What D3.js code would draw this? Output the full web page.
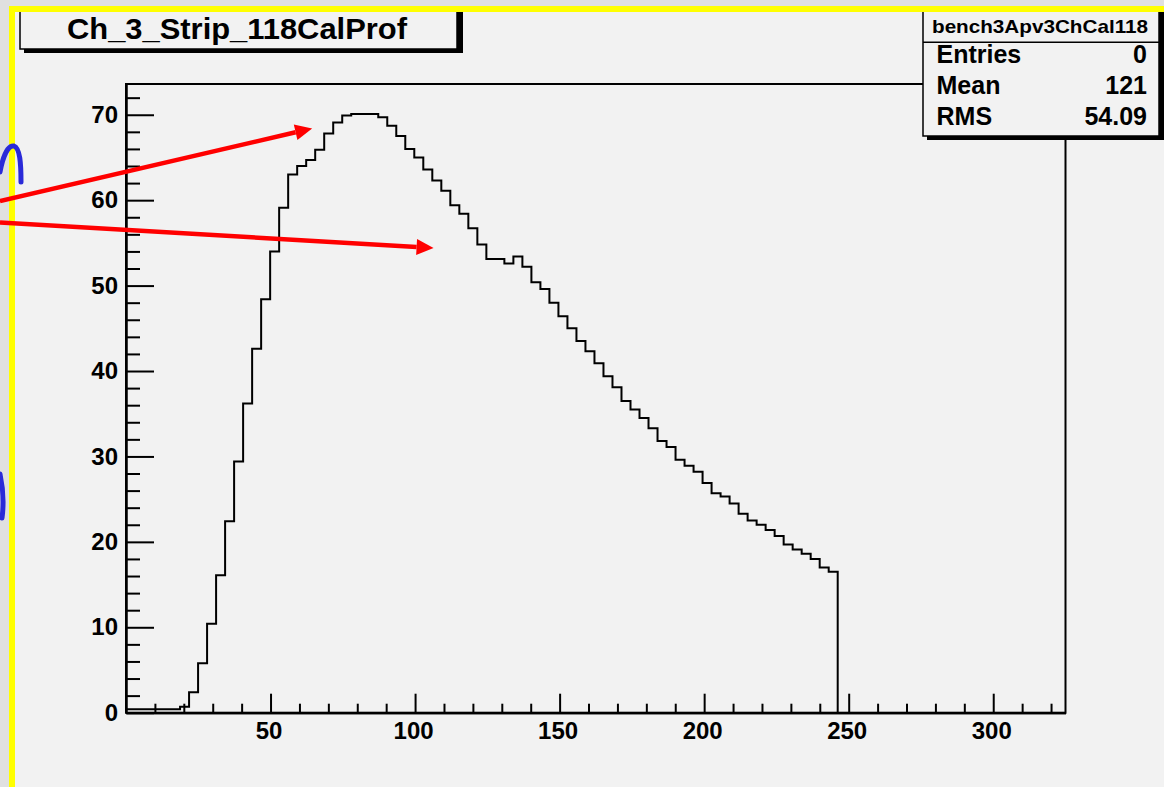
<!DOCTYPE html>
<html>
<head>
<meta charset="utf-8">
<script src="https://cdn.jsdelivr.net/npm/d3@7"></script>
<style>
  body { margin: 0; background: #e2e2e2; }
  svg { display: block; }
  text { font-family: "Liberation Sans", Arial, Helvetica, sans-serif; font-weight: bold; fill: #000; }
</style>
</head>
<body>
<div class="chart-container"></div>
<script>
// histogram / pave contents
var histTitle = 'Ch_3_Strip_118CalProf';
var statsName = 'bench3Apv3ChCal118';
var statLabels = ['Entries', 'Mean', 'RMS'];
var statValues = ['0', '121', '54.09'];

// TH1 with 79 bins between xLow and xHigh, contents
var xLow = 0;
var xHigh = 246.2;
var binContents = [
  0.4, 0.4, 0.4, 0.4, 0.4, 0.4, 0.7, 2.4, 5.8, 10.4,
  16.1, 22.4, 29.4, 36.2, 42.6, 48.4, 54.0, 59.1, 63.0, 64.0,
  64.7, 65.9, 67.8, 69.1, 69.9, 70.1, 70.1, 70.1, 69.7, 68.7,
  67.5, 66.0, 65.0, 63.6, 62.3, 61.1, 59.4, 58.4, 56.7, 54.8,
  53.1, 53.1, 52.6, 53.4, 52.2, 50.4, 49.6, 48.0, 46.4, 45.0,
  43.5, 42.3, 40.9, 39.4, 38.1, 36.5, 35.5, 34.5, 33.3, 31.8,
  31.1, 29.6, 28.9, 28.2, 26.9, 25.7, 25.3, 24.5, 23.3, 22.5,
  22.0, 21.4, 20.7, 19.7, 19.1, 18.6, 18.0, 17.0, 16.5
];

// axis ranges and ticks
var xDomain = [0, 325];
var yDomain = [0, 73.6];
var xMajorTicks = [50, 100, 150, 200, 250, 300];
var xMinorTicks = [10, 20, 30, 40, 60, 70, 80, 90, 110, 120, 130, 140, 160, 170, 180, 190,
  210, 220, 230, 240, 260, 270, 280, 290, 310, 320];
var yMajorTicks = [0, 10, 20, 30, 40, 50, 60, 70];
var yMinorTicks = [2, 4, 6, 8, 12, 14, 16, 18, 22, 24, 26, 28, 32, 34, 36, 38, 42, 44, 46, 48,
  52, 54, 56, 58, 62, 64, 66, 68, 72];

// the red arrows drawn over the plot (data coordinates: tail -> head)
var arrowTails = [[-43.6, 59.9], [-43.6, 57.4]];
var arrowHeads = [[64.4, 68.4], [106.4, 54.4]];

var W = 1164, H = 787;
var margin = {top: 84, right: 98.5, bottom: 74.3, left: 126};

var x = d3.scaleLinear()
  .domain(xDomain)
  .range([margin.left, W - margin.right]);

var y = d3.scaleLinear()
  .domain(yDomain)
  .range([H - margin.bottom, margin.top]);

var svg = d3.select('.chart-container').append('svg')
  .attr('width', W)
  .attr('height', H);

// root canvas
svg.append('rect')
  .attr('width', W).attr('height', H)
  .attr('fill', '#f2f2f2');

// frame
svg.append('rect')
  .attr('x', x(xDomain[0])).attr('y', y(yDomain[1]))
  .attr('width', x(xDomain[1]) - x(xDomain[0]))
  .attr('height', y(yDomain[0]) - y(yDomain[1]))
  .attr('fill', 'none')
  .attr('stroke', '#000')
  .attr('stroke-width', 2);

// axes, ROOT style: ticks pointing into the frame
var gX = svg.append('g')
  .attr('transform', `translate(0,${y(0)})`)
  .call(d3.axisBottom(x).tickValues(xMajorTicks).tickSize(-19).tickPadding(9).tickSizeOuter(0));
svg.append('g')
  .attr('transform', `translate(0,${y(0)})`)
  .call(d3.axisBottom(x).tickValues(xMinorTicks).tickSize(-9).tickFormat('').tickSizeOuter(0));

var gY = svg.append('g')
  .attr('transform', `translate(${x(0)},0)`)
  .call(d3.axisLeft(y).tickValues(yMajorTicks).tickSize(-28).tickPadding(8).tickSizeOuter(0));
svg.append('g')
  .attr('transform', `translate(${x(0)},0)`)
  .call(d3.axisLeft(y).tickValues(yMinorTicks).tickSize(-14).tickFormat('').tickSizeOuter(0));

svg.selectAll('.domain').attr('stroke', '#000').attr('stroke-width', 2);
svg.selectAll('.tick line').attr('stroke', '#000').attr('stroke-width', 2);
svg.selectAll('.tick text')
  .attr('font-family', '"Liberation Sans", Arial, sans-serif')
  .attr('font-weight', 'bold')
  .attr('font-size', 24)
  .attr('fill', '#000');
gX.selectAll('.tick text').attr('x', -2);

// histogram outline
var binWidth = (xHigh - xLow) / binContents.length;
var pts = binContents.map((v, i) => [xLow + i * binWidth, v]);
pts.push([xHigh, binContents[binContents.length - 1]]);
pts.push([xHigh, 0]);

var line = d3.line()
  .x(d => x(d[0]))
  .y(d => y(d[1]))
  .curve(d3.curveStepAfter);

svg.append('path')
  .datum(pts)
  .attr('d', line)
  .attr('fill', 'none')
  .attr('stroke', '#000')
  .attr('stroke-width', 2);

// title pave
svg.append('rect')
  .attr('x', 24).attr('y', 4).attr('width', 439).attr('height', 49)
  .attr('fill', '#000');
svg.append('rect')
  .attr('x', 20).attr('y', 0).attr('width', 437).attr('height', 49)
  .attr('fill', '#f2f2f2')
  .attr('stroke', '#000')
  .attr('stroke-width', 1.5);
svg.append('text')
  .attr('x', 237).attr('y', 38.5)
  .attr('text-anchor', 'middle')
  .attr('font-size', 30)
  .attr('textLength', 340)
  .attr('lengthAdjust', 'spacingAndGlyphs')
  .text(histTitle);

// stats pave
svg.append('rect')
  .attr('x', 927).attr('y', 4).attr('width', 237).attr('height', 136)
  .attr('fill', '#000');
svg.append('rect')
  .attr('x', 923).attr('y', 0).attr('width', 236).attr('height', 136)
  .attr('fill', '#f2f2f2')
  .attr('stroke', '#000')
  .attr('stroke-width', 1.5);
svg.append('line')
  .attr('x1', 923).attr('x2', 1159)
  .attr('y1', 42.3).attr('y2', 42.3)
  .attr('stroke', '#000')
  .attr('stroke-width', 1.5);
svg.append('text')
  .attr('x', 1040).attr('y', 33.3)
  .attr('text-anchor', 'middle')
  .attr('font-size', 19)
  .attr('textLength', 216)
  .attr('lengthAdjust', 'spacingAndGlyphs')
  .text(statsName);

var rows = svg.append('g');
statLabels.forEach((lab, i) => {
  rows.append('text')
    .attr('x', 936.5).attr('y', 63.3 + i * 30.9)
    .attr('font-size', 25)
    .text(lab);
  rows.append('text')
    .attr('x', 1147).attr('y', 63.3 + i * 30.9)
    .attr('text-anchor', 'end')
    .attr('font-size', 25)
    .text(statValues[i]);
});

// slide around the canvas: background strips then the yellow border
svg.append('rect')
  .attr('x', 0).attr('y', 0).attr('width', W).attr('height', 7)
  .attr('fill', '#e0e0e0');
svg.append('rect')
  .attr('x', 0).attr('y', 0).attr('width', 10).attr('height', H)
  .attr('fill', '#e0e0e0');
svg.append('rect')
  .attr('x', 9).attr('y', 6).attr('width', W - 9).attr('height', 6)
  .attr('fill', '#ffff00');
svg.append('rect')
  .attr('x', 9).attr('y', 6).attr('width', 6).attr('height', H - 6)
  .attr('fill', '#ffff00');

// red arrows (pasted over the slide)
arrowTails.forEach((t, i) => {
  var h = arrowHeads[i];
  var x1 = x(t[0]), y1 = y(t[1]), x2 = x(h[0]), y2 = y(h[1]);
  var a = Math.atan2(y2 - y1, x2 - x1);
  var len = 17, half = 8;
  var bx = x2 - len * Math.cos(a), by = y2 - len * Math.sin(a);
  svg.append('line')
    .attr('x1', x1).attr('y1', y1)
    .attr('x2', bx).attr('y2', by)
    .attr('stroke', '#ff0000')
    .attr('stroke-width', 4.5);
  svg.append('path')
    .attr('d', `M${x2},${y2}L${bx - half * Math.sin(a)},${by + half * Math.cos(a)}L${bx + half * Math.sin(a)},${by - half * Math.cos(a)}Z`)
    .attr('fill', '#ff0000');
});

// bits of blue handwriting cut off by the left edge
svg.append('path')
  .attr('d', 'M0,172 C3,156 8,145 14,146 C20,148 21,164 21,182')
  .attr('fill', 'none')
  .attr('stroke', '#2a2ad8')
  .attr('stroke-width', 5)
  .attr('stroke-linecap', 'round');
svg.append('path')
  .attr('d', 'M0,474 C3,488 4,503 2,518')
  .attr('fill', 'none')
  .attr('stroke', '#2a2ad8')
  .attr('stroke-width', 5)
  .attr('stroke-linecap', 'round');
</script>
</body>
</html>
